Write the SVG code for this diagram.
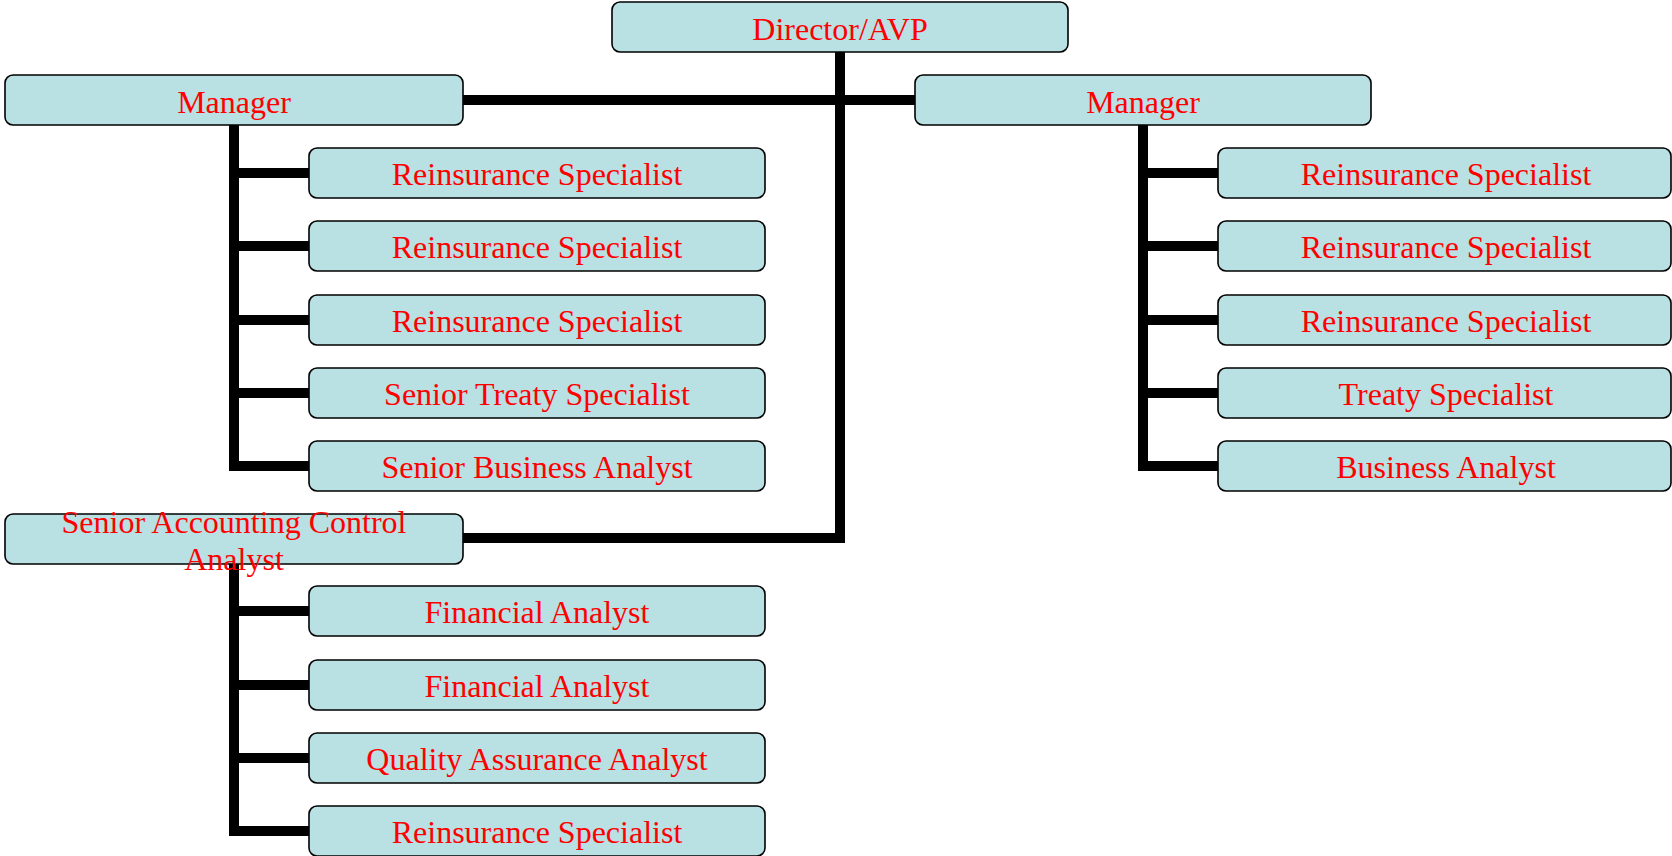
<svg xmlns="http://www.w3.org/2000/svg" width="1672" height="856" viewBox="0 0 1672 856">
<style>
.box{fill:#B9E0E3;stroke:#000;stroke-width:1.6}
.t{font-family:"Liberation Serif","Times New Roman",serif;font-size:32px;fill:#FF0000;text-anchor:middle}
.c{fill:none;stroke:#000;stroke-width:10;stroke-linejoin:miter;stroke-linecap:butt}
</style>
<rect width="1672" height="856" fill="#fff"/>
<g id="connectors">
<path class="c" d="M840 52 V538 H463"/>
<path class="c" d="M463 100 H915"/>
<path class="c" d="M234 125 V466 H309 M234 173 H309 M234 246 H309 M234 320 H309 M234 393 H309"/>
<path class="c" d="M1143 125 V466 H1218 M1143 173 H1218 M1143 246 H1218 M1143 320 H1218 M1143 393 H1218"/>
<path class="c" d="M234 564 V831 H309 M234 611 H309 M234 685 H309 M234 758 H309"/>
</g>
<g id="director"><rect class="box" x="612" y="2" width="456" height="50" rx="8"/><text class="t" x="840" y="40">Director/AVP</text></g>
<g id="manager-left"><rect class="box" x="5" y="75" width="458" height="50" rx="8"/><text class="t" x="234" y="113">Manager</text></g>
<g id="manager-right"><rect class="box" x="915" y="75" width="456" height="50" rx="8"/><text class="t" x="1143" y="113">Manager</text></g>
<g id="l1"><rect class="box" x="309" y="148" width="456" height="50" rx="8"/><text class="t" x="537" y="185">Reinsurance Specialist</text></g>
<g id="l2"><rect class="box" x="309" y="221" width="456" height="50" rx="8"/><text class="t" x="537" y="258">Reinsurance Specialist</text></g>
<g id="l3"><rect class="box" x="309" y="295" width="456" height="50" rx="8"/><text class="t" x="537" y="332">Reinsurance Specialist</text></g>
<g id="l4"><rect class="box" x="309" y="368" width="456" height="50" rx="8"/><text class="t" x="537" y="405">Senior Treaty Specialist</text></g>
<g id="l5"><rect class="box" x="309" y="441" width="456" height="50" rx="8"/><text class="t" x="537" y="478">Senior Business Analyst</text></g>
<g id="r1"><rect class="box" x="1218" y="148" width="453" height="50" rx="8"/><text class="t" x="1446" y="185">Reinsurance Specialist</text></g>
<g id="r2"><rect class="box" x="1218" y="221" width="453" height="50" rx="8"/><text class="t" x="1446" y="258">Reinsurance Specialist</text></g>
<g id="r3"><rect class="box" x="1218" y="295" width="453" height="50" rx="8"/><text class="t" x="1446" y="332">Reinsurance Specialist</text></g>
<g id="r4"><rect class="box" x="1218" y="368" width="453" height="50" rx="8"/><text class="t" x="1446" y="405">Treaty Specialist</text></g>
<g id="r5"><rect class="box" x="1218" y="441" width="453" height="50" rx="8"/><text class="t" x="1446" y="478">Business Analyst</text></g>
<g id="sac"><rect class="box" x="5" y="514" width="458" height="50" rx="8"/><text class="t" x="234" y="533">Senior Accounting Control</text><text class="t" x="234" y="570">Analyst</text></g>
<g id="s1"><rect class="box" x="309" y="586" width="456" height="50" rx="8"/><text class="t" x="537" y="623">Financial Analyst</text></g>
<g id="s2"><rect class="box" x="309" y="660" width="456" height="50" rx="8"/><text class="t" x="537" y="697">Financial Analyst</text></g>
<g id="s3"><rect class="box" x="309" y="733" width="456" height="50" rx="8"/><text class="t" x="537" y="770">Quality Assurance Analyst</text></g>
<g id="s4"><rect class="box" x="309" y="806" width="456" height="50" rx="8"/><text class="t" x="537" y="843">Reinsurance Specialist</text></g>
</svg>
